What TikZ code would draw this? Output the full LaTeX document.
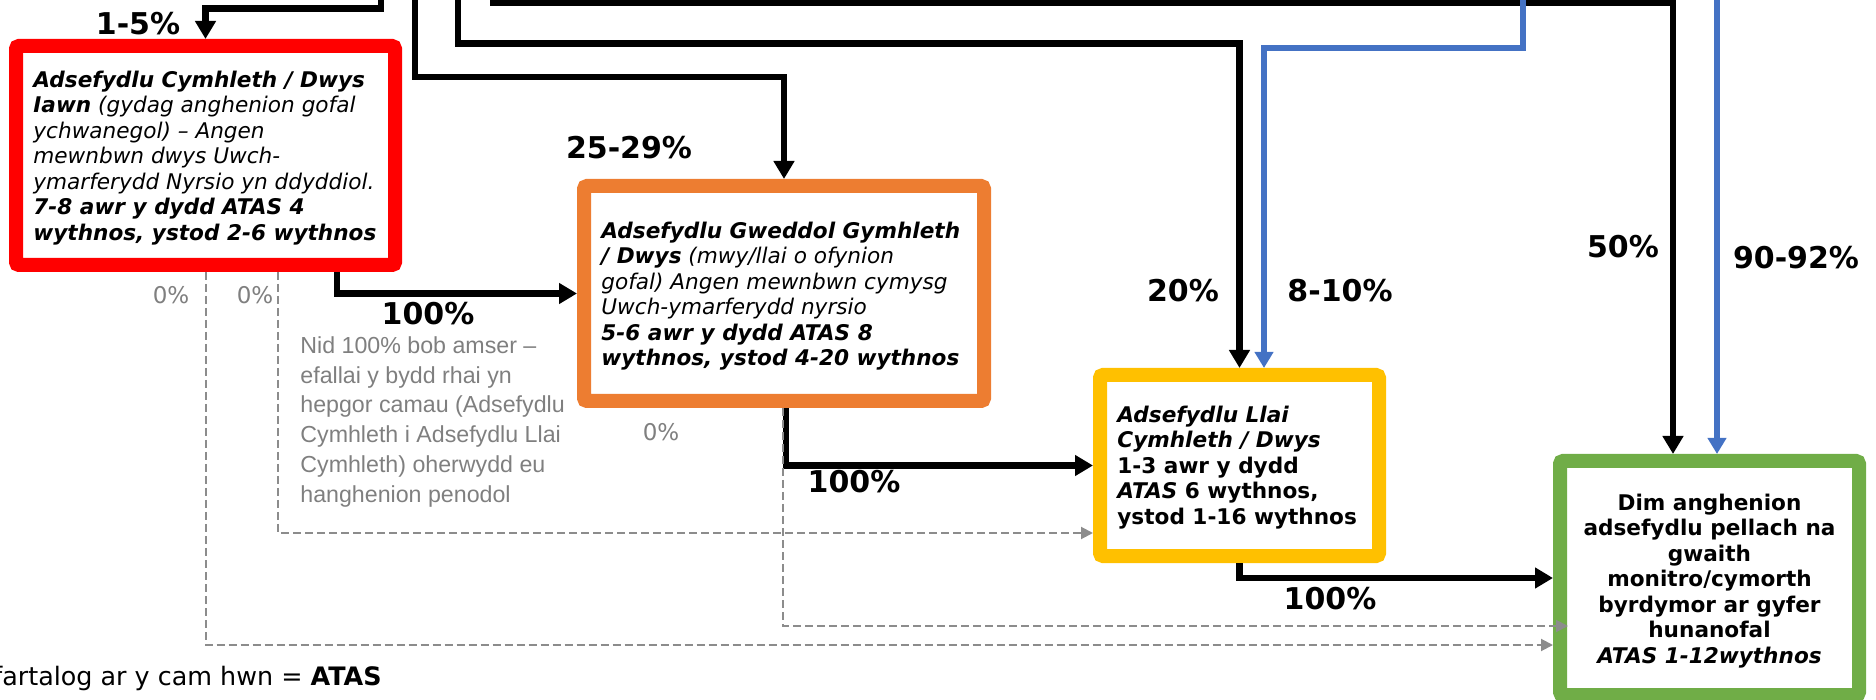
\documentclass[tikz,border=0pt]{standalone}
\usepackage{fontspec}
\setmainfont{DejaVu Sans}
\newfontfamily\arialf{Liberation Sans}
\usetikzlibrary{arrows.meta}
\definecolor{cred}{HTML}{FF0000}
\definecolor{corange}{HTML}{ED7D31}
\definecolor{cyellow}{HTML}{FFC000}
\definecolor{cgreen}{HTML}{70AD47}
\definecolor{cblue}{HTML}{4472C4}
\definecolor{cgray}{HTML}{8C8C8C}
\definecolor{ctext}{HTML}{7F7F7F}
\begin{document}
\begin{tikzpicture}[x=0.5pt,y=-0.5pt,
  box/.style={draw=#1, line width=7pt, fill=white, rounded corners=1.5pt, inner sep=0pt, outer sep=3.5pt},
  btxt/.style={inner sep=0pt, align=left, font=\fontsize{10.8}{12.75}\selectfont},
  blk/.style={draw=black, line width=3.3pt, -{Triangle[length=9pt,width=10pt]}},
  bl/.style={draw=cblue, line width=2.9pt, -{Triangle[length=8pt,width=9pt]}},
  gd/.style={draw=cgray, line width=1pt, dash pattern=on 4pt off 2pt, -{Triangle[length=6pt,width=6pt]}},
  pct/.style={font=\fontsize{15}{17}\selectfont\bfseries, inner sep=0pt},
  zero/.style={text=ctext, font=\fontsize{11.5}{13}\selectfont, inner sep=0pt}
]
\useasboundingbox (0,0) rectangle (1876,700);
\clip (0,0) rectangle (1876,700);

% boxes
\node[box=cred, minimum width=189.5pt, minimum height=109.5pt] (red) at (205.5,155.5) {};
\node[box=corange, minimum width=200pt, minimum height=107.5pt] (orange) at (784,293.5) {};
\node[box=cyellow, minimum width=139.5pt, minimum height=90.5pt] (yellow) at (1239.5,465.5) {};
\node[box=cgreen, minimum width=149.5pt, minimum height=117pt] (green) at (1709.5,578) {};

% box texts
\node[btxt, anchor=north west] (redtxt) at (33,70.5) {%
\textbf{\textit{Adsefydlu Cymhleth / Dwys}}\\
\textbf{\textit{Iawn}} \textit{(gydag anghenion gofal}\\
\textit{ychwanegol) – Angen}\\
\textit{mewnbwn dwys Uwch-}\\
\textit{ymarferydd Nyrsio yn ddyddiol.}\\
\textbf{\textit{7-8 awr y dydd ATAS 4}}\\
\textbf{\textit{wythnos, ystod 2-6 wythnos}}};

\node[btxt, anchor=north west] (orangetxt) at (601,221.5) {%
\textbf{\textit{Adsefydlu Gweddol Gymhleth}}\\
\textbf{\textit{/ Dwys}} \textit{(mwy/llai o ofynion}\\
\textit{gofal) Angen mewnbwn cymysg}\\
\textit{Uwch-ymarferydd nyrsio}\\
\textbf{\textit{5-6 awr y dydd ATAS 8}}\\
\textbf{\textit{wythnos, ystod 4-20 wythnos}}};

\node[btxt, anchor=north west] (yellowtxt) at (1117,405.5) {%
\textbf{\textit{Adsefydlu Llai}}\\
\textbf{\textit{Cymhleth / Dwys}}\\
\textbf{1-3 awr y dydd}\\
\textbf{\textit{ATAS} 6 wythnos,}\\
\textbf{ystod 1-16 wythnos}};

\node[btxt, align=center, anchor=north] (greentxt) at (1709.5,493.5) {%
\textbf{Dim anghenion}\\
\textbf{adsefydlu pellach na}\\
\textbf{gwaith}\\
\textbf{monitro/cymorth}\\
\textbf{byrdymor ar gyfer}\\
\textbf{hunanofal}\\
\textbf{\textit{ATAS 1-12wythnos}}};

% incoming connectors from above
\coordinate (top1) at (381,-10);
\coordinate (top2) at (415,-10);
\coordinate (top3) at (458,-10);
\coordinate (top4) at (493,-10);
\coordinate (top5) at (1523,-10);
\coordinate (top6) at (1717,-10);
\coordinate (gN1) at ([xshift=-18.25pt]green.north);
\coordinate (gN2) at ([xshift=3.75pt]green.north);
\coordinate (yN2) at ([xshift=12.25pt]yellow.north);
\coordinate (rS1) at ([xshift=65.75pt]red.south);
\coordinate (rS2) at ([xshift=36.25pt]red.south);
\coordinate (oS1) at ([xshift=1pt]orange.south);
\coordinate (oS2) at ([xshift=-0.5pt]orange.south);
\coordinate (gW2) at ([xshift=7.5pt]green.west);

\draw[blk] (top1) |- (red.north |- 0,8.5) -- (red.north);
\draw[blk] (top2) |- (orange.north |- 0,77) -- (orange.north);
\draw[blk] (top3) |- (yellow.north |- 0,43.5) -- (yellow.north);
\draw[blk] (top4) |- (gN1 |- 0,2.5) -- (gN1);
\draw[bl] (top5) |- (yN2 |- 0,48) -- (yN2);
\draw[bl] (top6) -- (gN2);

% flows between boxes
\draw[blk] (rS1) |- (orange.west);
\draw[blk] (oS1) |- (yellow.west);
\draw[blk] (yellow.south) |- (green.west);

% dashed 0% flows
\draw[gd] (red.south) |- (green.west |- 0,645);
\draw[gd] (rS2) |- (yellow.west |- 0,533);
\draw[gd] (oS2) |- (gW2 |- 0,626);

% labels
\node[pct] (l1) at (138,24) {1-5\%};
\node[pct] (l2) at (629,148) {25-29\%};
\node[pct] (l3) at (428,314) {100\%};
\node[pct] (l4) at (854,482) {100\%};
\node[pct] (l5) at (1330,599) {100\%};
\node[pct] (l6) at (1183,291) {20\%};
\node[pct] (l7) at (1340,291) {8-10\%};
\node[pct] (l8) at (1623,247) {50\%};
\node[pct] (l9) at (1796,258) {90-92\%};

\node[zero] (z1) at (171,295) {0\%};
\node[zero] (z2) at (255,295) {0\%};
\node[zero] (z3) at (661,432) {0\%};

\node[inner sep=0pt, anchor=north west, align=left, text=ctext,
  font=\arialf\fontsize{11.6}{14.9}\selectfont] (note) at (300,336) {%
Nid 100\% bob amser –\\
efallai y bydd rhai yn\\
hepgor camau (Adsefydlu\\
Cymhleth i Adsefydlu Llai\\
Cymhleth) oherwydd eu\\
hanghenion penodol};

\node[inner sep=0pt, anchor=base west, font=\fontsize{12.7}{14}\selectfont] (avg) at (-7,685) {fartalog ar y cam hwn = \textbf{ATAS}};
\end{tikzpicture}
\end{document}
